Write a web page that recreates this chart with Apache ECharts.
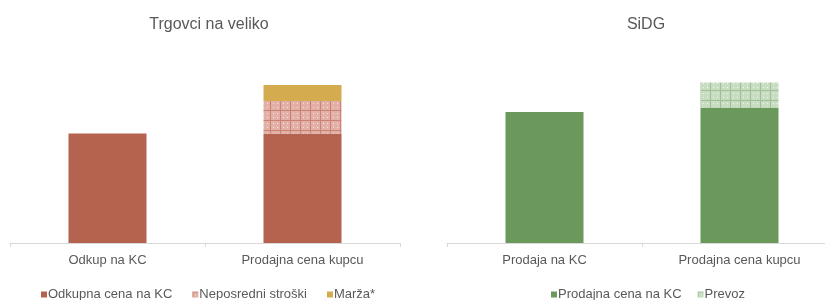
<!DOCTYPE html>
<html>
<head>
<meta charset="utf-8">
<script src="https://cdn.jsdelivr.net/npm/echarts@6/dist/echarts.min.js"></script>
<style>
  html, body { margin: 0; padding: 0; background: #fff; }
  #chart { width: 825px; height: 300px; }
</style>
</head>
<body>
<div id="chart"></div>
<script>
// levi graf - trgovci na veliko
var leftCategories = ['Odkup na KC', 'Prodajna cena kupcu']
var odkupnaCena = [54.7, 54.7]
var neposredniStroski = ['-', 16.3]
var marza = ['-', 8.0]

// desni graf - SiDG
var rightCategories = ['Prodaja na KC', 'Prodajna cena kupcu']
var prodajnaCenaKC = [65.5, 67.7]
var prevoz = ['-', 12.5]

// vzorec za srafirane stolpce
function makePattern (bg, line, dot) {
  var c = document.createElement('canvas')
  c.width = 10
  c.height = 10
  var ctx = c.getContext('2d')
  ctx.fillStyle = bg
  ctx.fillRect(0, 0, 10, 10)
  ctx.fillStyle = line
  ctx.fillRect(0, 0, 1, 10)
  ctx.fillRect(0, 0, 10, 1)
  ctx.fillStyle = dot
  ctx.fillRect(3, 3, 1, 1)
  ctx.fillRect(7, 7, 1, 1)
  ctx.fillRect(7, 3, 1, 1)
  ctx.fillRect(3, 7, 1, 1)
  return { image: c, repeat: 'repeat' }
}

var textColor = '#595959'
var fontFamily = 'Liberation Sans, Arial, sans-serif'

function xAxisFor (idx, data) {
  return {
    type: 'category',
    gridIndex: idx,
    data: data,
    axisLine: { lineStyle: { color: '#d9d9d9', width: 1 } },
    axisTick: { show: true, length: 4, lineStyle: { color: '#d9d9d9' } },
    axisLabel: { color: textColor, fontSize: 13, margin: 11, fontFamily: fontFamily }
  }
}

function yAxisFor (idx) {
  return {
    type: 'value',
    gridIndex: idx,
    min: 0,
    max: 100,
    show: false,
    splitLine: { show: false }
  }
}

var chart = echarts.init(document.getElementById('chart'))
chart.setOption({
  animation: false,
  textStyle: { fontFamily: fontFamily },
  title: [
    {
      text: 'Trgovci na veliko',
      left: 204,
      top: 12,
      textAlign: 'center',
      textStyle: { color: textColor, fontSize: 16, fontWeight: 'normal', fontFamily: fontFamily }
    },
    {
      text: 'SiDG',
      left: 641,
      top: 12,
      textAlign: 'center',
      textStyle: { color: textColor, fontSize: 16, fontWeight: 'normal', fontFamily: fontFamily }
    }
  ],
  grid: [
    { left: 10, width: 390, top: 43, height: 200, outerBoundsMode: 'none' },
    { left: 447, width: 390, top: 43, height: 200, outerBoundsMode: 'none' }
  ],
  legend: [
    {
      data: ['Odkupna cena na KC', 'Neposredni stroški', 'Marža*'],
      left: 41,
      top: 288,
      padding: 0,
      itemWidth: 6,
      itemHeight: 6,
      itemGap: 20,
      icon: 'rect',
      textStyle: { color: textColor, fontSize: 13, padding: [0, 0, 0, -4] }
    },
    {
      data: ['Prodajna cena na KC', 'Prevoz'],
      left: 551,
      top: 288,
      padding: 0,
      itemWidth: 6,
      itemHeight: 6,
      itemGap: 16,
      icon: 'rect',
      textStyle: { color: textColor, fontSize: 13, padding: [0, 0, 0, -4] }
    }
  ],
  xAxis: [xAxisFor(0, leftCategories), xAxisFor(1, rightCategories)],
  yAxis: [yAxisFor(0), yAxisFor(1)],
  series: [
    {
      name: 'Odkupna cena na KC',
      type: 'bar',
      stack: 'levo',
      xAxisIndex: 0,
      yAxisIndex: 0,
      barWidth: '40%',
      itemStyle: { color: '#b5634f' },
      data: odkupnaCena
    },
    {
      name: 'Neposredni stroški',
      type: 'bar',
      stack: 'levo',
      xAxisIndex: 0,
      yAxisIndex: 0,
      barWidth: '40%',
      itemStyle: { color: makePattern('#e2b0a6', '#c98273', '#f4e0dc') },
      data: neposredniStroski
    },
    {
      name: 'Marža*',
      type: 'bar',
      stack: 'levo',
      xAxisIndex: 0,
      yAxisIndex: 0,
      barWidth: '40%',
      itemStyle: { color: '#d5ab50' },
      data: marza
    },
    {
      name: 'Prodajna cena na KC',
      type: 'bar',
      stack: 'desno',
      xAxisIndex: 1,
      yAxisIndex: 1,
      barWidth: '40%',
      itemStyle: { color: '#6a995b' },
      data: prodajnaCenaKC
    },
    {
      name: 'Prevoz',
      type: 'bar',
      stack: 'desno',
      xAxisIndex: 1,
      yAxisIndex: 1,
      barWidth: '40%',
      itemStyle: { color: makePattern('#c7dcc0', '#9fbf95', '#eef5ec') },
      data: prevoz
    }
  ]
})
</script>
</body>
</html>
